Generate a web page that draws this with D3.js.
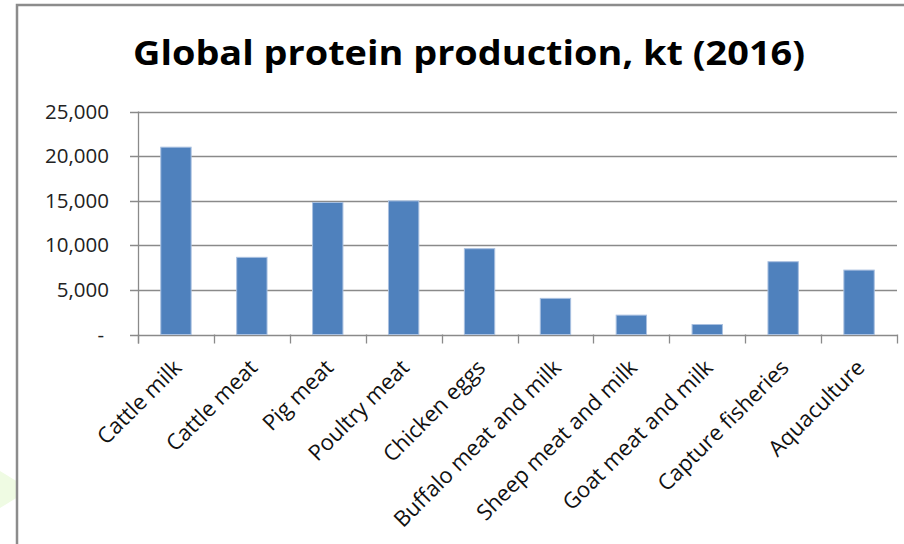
<!DOCTYPE html>
<html>
<head>
<meta charset="utf-8">
<script src="https://cdn.jsdelivr.net/npm/d3@7"></script>
<style>
  html, body { margin: 0; padding: 0; background: #fff; }
  svg { display: block; }
  text { font-family: "Open Sans", Lato, sans-serif; fill: #000; }
</style>
</head>
<body>
<svg id="chart" width="904" height="544"></svg>
<script>
// Global protein production by source, thousand tonnes (2016)
const categories = [
  "Cattle milk", "Cattle meat", "Pig meat", "Poultry meat", "Chicken eggs",
  "Buffalo meat and milk", "Sheep meat and milk", "Goat meat and milk",
  "Capture fisheries", "Aquaculture"
];
const production = [21000, 8650, 14800, 14980, 9620, 4050, 2170, 1120, 8160, 7220];
const yTicks = [0, 5000, 10000, 15000, 20000, 25000];
const titleText = "Global protein production, kt (2016)";

const svg = d3.select("#chart");
const W = 904, H = 544;
const plot = { left: 138, right: 897, top: 111.5, bottom: 334.5 };

// faint decorative shape at the left edge
svg.append("polygon")
  .attr("points", "0,471 18,482 18,497 0,508")
  .attr("fill", "#effbe3");

// chart frame
svg.append("rect")
  .attr("x", 17).attr("y", 5)
  .attr("width", W + 20).attr("height", H + 20)
  .attr("fill", "none")
  .attr("stroke", "#8c8c8c")
  .attr("stroke-width", 2.5);

// title
svg.append("text")
  .attr("x", 133).attr("y", 65)
  .attr("textLength", 672)
  .attr("lengthAdjust", "spacingAndGlyphs")
  .style("font-weight", "bold")
  .style("font-size", "34px")
  .text(titleText);

const x = d3.scaleBand()
  .domain(categories)
  .range([plot.left, plot.right])
  .paddingInner(0.6)
  .paddingOuter(0.3);

const y = d3.scaleLinear()
  .domain([0, 25000])
  .range([plot.bottom, plot.top]);

const step = x.step();
const fmt = d => d === 0 ? "-" : d3.format(",")(d);

// horizontal gridlines
svg.append("g")
  .selectAll("line")
  .data(yTicks)
  .join("line")
  .attr("x1", plot.left - 8)
  .attr("x2", plot.right)
  .attr("y1", d => Math.round(y(d)) + 0.5)
  .attr("y2", d => Math.round(y(d)) + 0.5)
  .attr("stroke", "#8a8a8a")
  .attr("stroke-width", 1.3);

// y axis line
svg.append("line")
  .attr("x1", plot.left + 0.5).attr("x2", plot.left + 0.5)
  .attr("y1", y(25000)).attr("y2", plot.bottom + 9)
  .attr("stroke", "#8a8a8a")
  .attr("stroke-width", 1.3);

// category boundary ticks
const boundaries = d3.range(categories.length + 1).map(i => plot.left + i * step);
svg.append("g")
  .selectAll("line")
  .data(boundaries)
  .join("line")
  .attr("x1", d => Math.round(d) + 0.5)
  .attr("x2", d => Math.round(d) + 0.5)
  .attr("y1", plot.bottom)
  .attr("y2", plot.bottom + 9)
  .attr("stroke", "#8a8a8a")
  .attr("stroke-width", 1.3);

// y tick labels
svg.append("g")
  .selectAll("text")
  .data(yTicks)
  .join("text")
  .attr("x", d => d === 0 ? 104 : 109)
  .attr("y", d => y(d) + 7)
  .attr("text-anchor", "end")
  .style("font-size", "20.5px")
  .style("fill", "#222")
  .text(fmt);

// bars
svg.append("g")
  .selectAll("rect")
  .data(categories)
  .join("rect")
  .attr("x", d => x(d))
  .attr("width", x.bandwidth())
  .attr("y", (d, i) => y(production[i]))
  .attr("height", (d, i) => y(0) - y(production[i]))
  .attr("fill", "#4f81bd")
  .attr("stroke", "#a9c0e0")
  .attr("stroke-width", 1);

// rotated category labels
svg.append("g")
  .selectAll("text")
  .data(categories)
  .join("text")
  .attr("text-anchor", "end")
  .attr("transform", d => `translate(${x(d) + x.bandwidth() / 2 + 7},369) rotate(-45)`)
  .style("font-size", "22px")
  .style("fill", "#111")
  .text(d => d);
</script>
</body>
</html>
